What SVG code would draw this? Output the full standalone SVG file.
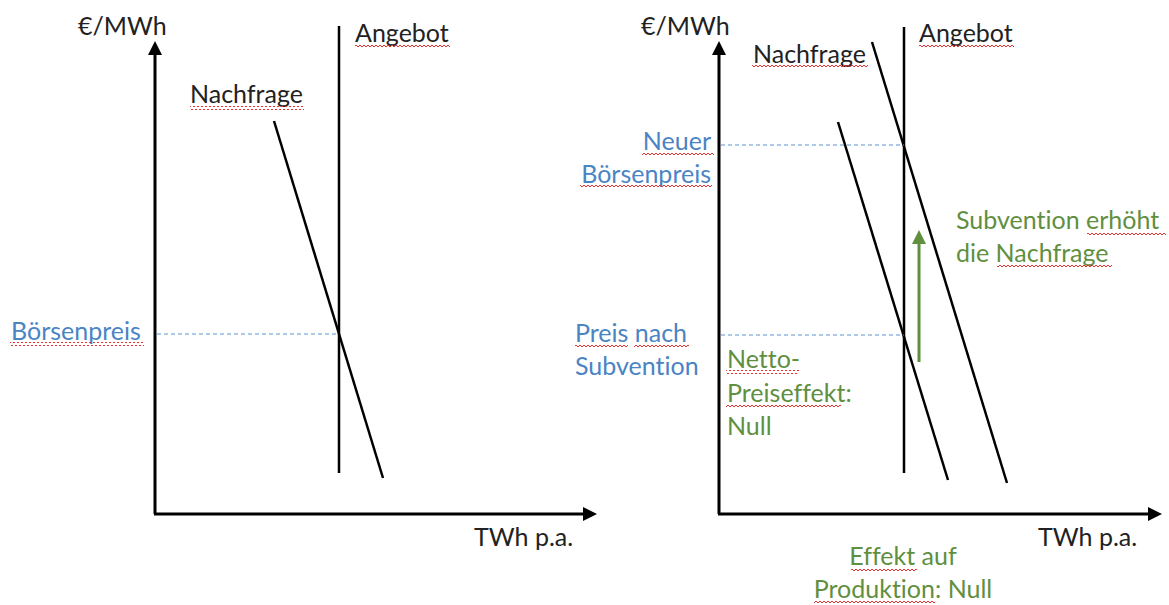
<svg xmlns="http://www.w3.org/2000/svg" width="1169" height="605" viewBox="0 0 1169 605">
<style>
text{font-family:Lato,"Open Sans","Liberation Sans",sans-serif;font-size:25px;font-variant-ligatures:none;font-feature-settings:"liga" 0,"dlig" 0}
.k{fill:#222}
.b{fill:#4a84c4}
.g{fill:#5f8f3f}
.ax{stroke:#000;stroke-width:3;fill:none}
.ln{stroke:#000;stroke-width:2.5;fill:none}
.ds{stroke:#5b95d0;stroke-width:1.2;stroke-dasharray:4 3;fill:none}
.sq{fill:url(#sq)}
</style>
<defs>
<pattern id="sq" patternUnits="userSpaceOnUse" width="4" height="4"><path d="M0,1 L2,3 L4,1" stroke="#e8302e" stroke-width="1" fill="none"/></pattern>
<marker id="ah" markerUnits="userSpaceOnUse" markerWidth="14" markerHeight="14" viewBox="0 0 14 14" refX="4" refY="7" orient="auto"><path d="M0,0 L14,7 L0,14 z" fill="#000"/></marker>
<marker id="ahg" markerUnits="userSpaceOnUse" markerWidth="14" markerHeight="14" viewBox="0 0 14 14" refX="4" refY="7" orient="auto"><path d="M0,0 L14,7 L0,14 z" fill="#5f8f3f"/></marker>
</defs>
<rect width="1169" height="605" fill="#fff"/>
<g id="connectors">
<line class="ax" x1="155" y1="514" x2="155" y2="51" marker-end="url(#ah)"/>
<line class="ax" x1="154" y1="514" x2="587" y2="514" marker-end="url(#ah)"/>
<line class="ln" x1="339" y1="26" x2="339" y2="473"/>
<line class="ln" x1="274" y1="121" x2="383" y2="478"/>
<line class="ds" x1="157" y1="334" x2="339" y2="334"/>
<line class="ax" x1="719" y1="514" x2="719" y2="51" marker-end="url(#ah)"/>
<line class="ax" x1="718" y1="514" x2="1152" y2="514" marker-end="url(#ah)"/>
<line class="ln" x1="904" y1="27" x2="904" y2="473"/>
<line class="ln" x1="872" y1="42" x2="1007" y2="483"/>
<line class="ln" x1="838" y1="122" x2="948" y2="480"/>
<line class="ds" x1="721" y1="145" x2="904" y2="145"/>
<line class="ds" x1="721" y1="335" x2="904" y2="335"/>
<line x1="919" y1="362" x2="919" y2="240" stroke="#5f8f3f" stroke-width="3" marker-end="url(#ahg)"/>
</g>
<g id="left-yaxis-label"><text class="k" x="78" y="35">€/MWh</text></g>
<g id="left-angebot"><text class="k" x="355" y="42">Angebot</text><rect class="sq" x="355" y="45" width="95" height="4"/></g>
<g id="left-nachfrage"><text class="k" x="190" y="103">Nachfrage</text><rect class="sq" x="190" y="106" width="114" height="4"/></g>
<g id="left-boersenpreis"><text class="b" x="11" y="340">Börsenpreis</text><rect class="sq" x="10" y="342" width="134" height="4"/></g>
<g id="left-xaxis-label"><text class="k" x="474" y="546">TWh p.a.</text></g>
<g id="right-yaxis-label"><text class="k" x="641" y="35">€/MWh</text></g>
<g id="right-angebot"><text class="k" x="919" y="42">Angebot</text><rect class="sq" x="919" y="45" width="95" height="4"/></g>
<g id="right-nachfrage"><text class="k" x="753" y="63">Nachfrage</text><rect class="sq" x="752" y="65" width="116" height="4"/></g>
<g id="neuer-boersenpreis"><text class="b" text-anchor="end"><tspan x="711" y="150">Neuer</tspan><tspan x="711" y="183">Börsenpreis</tspan></text><rect class="sq" x="642" y="151" width="72" height="4"/><rect class="sq" x="580" y="185" width="132" height="4"/></g>
<g id="preis-nach-subvention"><text class="b"><tspan x="575" y="342">Preis nach</tspan><tspan x="575" y="375">Subvention</tspan></text><rect class="sq" x="575" y="344" width="53" height="4"/><rect class="sq" x="634" y="344" width="55" height="4"/></g>
<g id="subvention-erhoeht"><text class="g"><tspan x="956" y="229">Subvention erhöht</tspan><tspan x="956" y="262">die Nachfrage</tspan></text><rect class="sq" x="1087" y="231" width="79" height="4"/><rect class="sq" x="997" y="265" width="115" height="4"/></g>
<g id="netto-preiseffekt"><text class="g"><tspan x="727" y="368">Netto-</tspan><tspan x="727" y="402">Preiseffekt:</tspan><tspan x="727" y="435">Null</tspan></text><rect class="sq" x="726" y="370" width="73" height="4"/><rect class="sq" x="726" y="405" width="115" height="4"/></g>
<g id="right-xaxis-label"><text class="k" x="1038" y="546">TWh p.a.</text></g>
<g id="effekt-produktion"><text class="g" text-anchor="middle"><tspan x="903" y="565">Effekt auf</tspan><tspan x="903" y="598">Produktion: Null</tspan></text><rect class="sq" x="851" y="569" width="66" height="4"/><rect class="sq" x="814" y="600" width="121" height="4"/></g>
</svg>
